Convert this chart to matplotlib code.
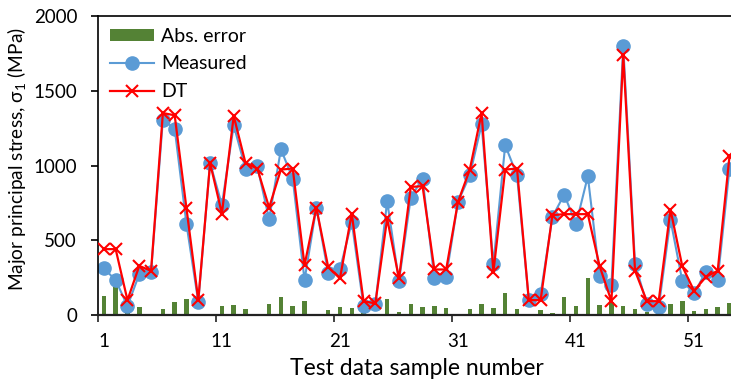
import numpy as np
import matplotlib
matplotlib.use("Agg")
import matplotlib.pyplot as plt

plt.rcParams['font.family'] = ['Lato', 'DejaVu Sans']
plt.rcParams['mathtext.fontset'] = 'custom'
plt.rcParams['mathtext.rm'] = 'Lato'

# Test samples 1..54
samples = np.arange(1, 55)

measured = [312, 234, 60, 274, 289, 1307, 1247, 608, 89, 1017,
            737, 1269, 980, 995, 641, 1109, 913, 234, 719, 283,
            305, 623, 60, 73, 762, 227, 786, 913, 245, 256,
            757, 935, 1276, 341, 1136, 935, 100, 140, 657, 806,
            608, 928, 260, 200, 1797, 341, 73, 51, 639, 229,
            145, 289, 234, 980]

dt = [441, 441, 100, 329, 296, 1351, 1336, 713, 100, 1017,
      679, 1331, 1017, 980, 719, 973, 980, 334, 719, 323,
      245, 679, 93, 78, 646, 245, 857, 862, 305, 305,
      757, 973, 1351, 289, 973, 980, 100, 100, 668, 675,
      675, 675, 327, 93, 1737, 296, 93, 93, 706, 327,
      162, 256, 296, 1062]

abs_error = [127, 200, 40, 51, 7, 38, 85, 105, 7, 0,
             60, 65, 38, 7, 73, 122, 60, 96, 0, 33,
             56, 49, 22, 5, 105, 18, 71, 51, 60, 45,
             4, 38, 76, 45, 149, 40, 0, 33, 11, 122,
             60, 251, 67, 89, 60, 40, 22, 30, 73, 93,
             27, 38, 56, 78]

fig = plt.figure(figsize=(7.31, 3.81), dpi=100)
ax = fig.add_axes([0.134, 0.173, 0.872, 0.785])

bars = ax.bar(samples, abs_error, width=0.38, color='#548235', label='Abs. error', zorder=1)
l_meas, = ax.plot(samples, measured, color='#5B9BD5', lw=1.5, marker='o', ms=9.5,
                  mfc='#5B9BD5', mec='#5B9BD5', label='Measured', zorder=2)
l_dt, = ax.plot(samples, dt, color='#FF0000', lw=1.6, marker='x', ms=9, mew=1.5,
                label='DT', zorder=3)

ax.set_xlim(0.5, 54.5)
ax.set_ylim(0, 2000)

# category-style axis: tick marks between groups, labels on the groups
ax.set_xticks(np.arange(0.5, 55, 10))
ax.set_xticklabels([])
ax.set_xticks(np.arange(1, 55, 10), minor=True)
ax.set_xticklabels([str(v) for v in range(1, 55, 10)], minor=True)
ax.tick_params(axis='x', which='major', direction='out', length=5, width=1.2, color='#222222')
ax.tick_params(axis='x', which='minor', length=0, pad=13, labelsize=13.5)

ax.set_yticks([0, 500, 1000, 1500, 2000])
ax.tick_params(axis='y', direction='out', length=5, width=1.2, pad=10, labelsize=13.5)

ax.spines['right'].set_visible(False)
ax.spines['top'].set_linewidth(1.2)
ax.spines['left'].set_linewidth(1.2)
ax.spines['bottom'].set_linewidth(1.6)
ax.spines['bottom'].set_color('#222222')

ax.set_xlabel('Test data sample number', fontsize=16.5)
ax.xaxis.set_label_coords(0.5, -0.145)
ax.set_ylabel(r'Major principal stress, σ$_1$ (MPa)', fontsize=13.8)
ax.yaxis.set_label_coords(-0.108, 0.52)

ax.legend([bars, l_meas, l_dt], ['Abs. error', 'Measured', 'DT'],
          loc='upper left', frameon=False, fontsize=14, handlelength=2.3,
          handleheight=0.55, labelspacing=0.55, borderaxespad=0.2,
          handletextpad=0.35, bbox_to_anchor=(0.0, 1.0))

fig.savefig('out.png', dpi=100)
